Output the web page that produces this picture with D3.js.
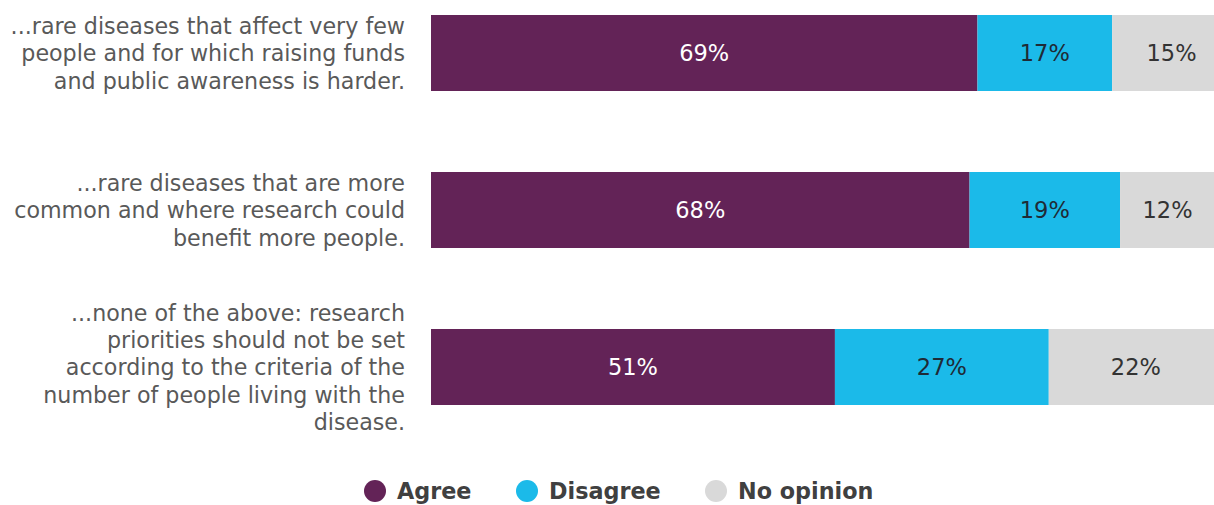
<!DOCTYPE html>
<html>
<head>
<meta charset="utf-8">
<script src="https://cdn.jsdelivr.net/npm/d3@7"></script>
<style>
  html, body { margin: 0; padding: 0; background: #fff; }
  svg { display: block; }
</style>
</head>
<body>
<svg id="chart" width="1214" height="505"></svg>
<script>
// Survey statements (each line of the wrapped label)
const statements = [
  ["...rare diseases that affect very few", "people and for which raising funds", "and public awareness is harder."],
  ["...rare diseases that are more", "common and where research could", "benefit more people."],
  ["...none of the above: research", "priorities should not be set", "according to the criteria of the", "number of people living with the", "disease."]
];
const seriesNames = ["Agree", "Disagree", "No opinion"];
const agree = [69, 68, 51];
const disagree = [17, 19, 27];
const noOpinion = [15, 12, 22];

const colors = ["#632357", "#1bbae9", "#d9d9d9"];
const labelColors = ["#ffffff", "#1f2a36", "#333333"];

const svg = d3.select("#chart");
const font = "'DejaVu Sans', Verdana, sans-serif";

const rows = statements.map((lines, i) => ({
  id: i, lines,
  values: [agree[i], disagree[i], noOpinion[i]]
}));

const x = d3.scaleLinear().domain([0, 100]).range([431, 1223]);
const y = d3.scaleBand().domain(rows.map(r => r.id)).range([15, 405])
  .paddingInner(0.516).paddingOuter(0);

// Stacked segments
const stack = d3.stack().keys([0, 1, 2]).value((d, k) => d.values[k]);
const layers = stack(rows);

const g = svg.append("g");
layers.forEach((layer, k) => {
  const lg = g.append("g");
  lg.selectAll("rect").data(layer).join("rect")
    .attr("x", d => x(d[0]))
    .attr("y", d => y(d.data.id))
    .attr("width", d => x(d[1]) - x(d[0]))
    .attr("height", y.bandwidth())
    .attr("fill", colors[k]);
  lg.selectAll("text").data(layer).join("text")
    .attr("x", d => (x(d[0]) + x(d[1])) / 2)
    .attr("y", d => y(d.data.id) + y.bandwidth() / 2)
    .attr("dy", "0.36em")
    .attr("text-anchor", "middle")
    .attr("font-family", font)
    .attr("font-size", 22.5)
    .attr("fill", labelColors[k])
    .text(d => d.data.values[k] + "%");
});

// Category labels, right aligned and vertically centred on the bar
const lineH = 27.3;
const cat = svg.append("g");
rows.forEach(r => {
  const cy = y(r.id) + y.bandwidth() / 2;
  const t = cat.append("text")
    .attr("text-anchor", "end")
    .attr("font-family", font)
    .attr("font-size", 22.2)
    .attr("fill", "#595959");
  r.lines.forEach((ln, j) => {
    t.append("tspan")
      .attr("x", 405)
      .attr("y", cy + (j - (r.lines.length - 1) / 2) * lineH)
      .attr("dy", "0.38em")
      .text(ln);
  });
});

// Legend
const legendX = [375, 527, 716];
const legendY = 491;
const legend = svg.append("g");
seriesNames.forEach((name, k) => {
  legend.append("circle")
    .attr("cx", legendX[k]).attr("cy", legendY).attr("r", 11)
    .attr("fill", colors[k]);
  legend.append("text")
    .attr("x", legendX[k] + 22).attr("y", legendY).attr("dy", "0.36em")
    .attr("font-family", font).attr("font-size", 22.3).attr("font-weight", "bold")
    .attr("fill", "#404040")
    .text(name);
});
</script>
</body>
</html>
